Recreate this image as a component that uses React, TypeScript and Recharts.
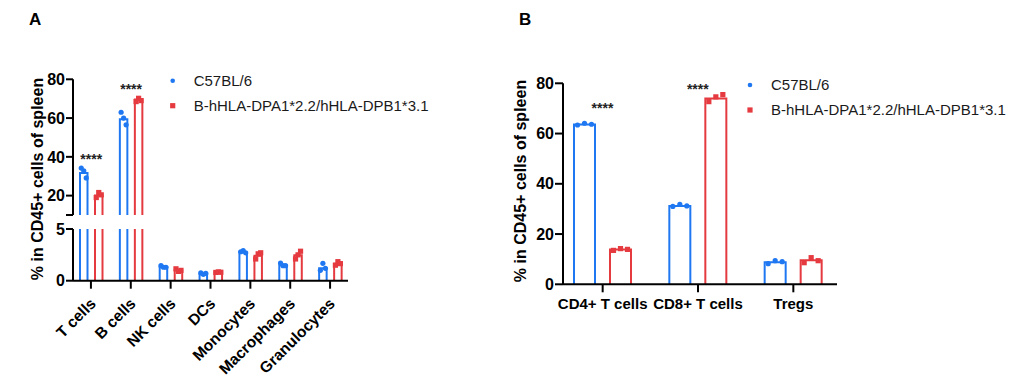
import React from "react";
import { BarChart, Bar, XAxis, YAxis } from "recharts";

const BLUE = "#1f78f2";
const RED = "#e53a3f";
const FONT = "'Liberation Sans', Arial, Helvetica, sans-serif";

// ---- panel A: immune cells of spleen (broken axis) ----
const cellsA = ["T cells", "B cells", "NK cells", "DCs", "Monocytes", "Macrophages", "Granulocytes"];
const meanA_C57 = [31.7, 59.4, 1.32, 0.68, 2.72, 1.5, 1.2];
const meanA_HLA = [20.0, 69.6, 1.0, 0.82, 2.42, 2.45, 1.65];
const dotsA_C57 = [
  [34.2, 32.8, 29.1],
  [63.0, 60.0, 56.5],
  [1.45, 1.3, 1.3],
  [0.75, 0.62, 0.7],
  [2.8, 2.9, 2.7],
  [1.7, 1.45, 1.45],
  [1.0, 1.68, 1.2],
];
const dotsA_HLA = [
  [19.0, 21.6, 20.4],
  [68.5, 70.2, 69.0],
  [1.15, 0.9, 1.0],
  [0.8, 0.85, 0.82],
  [2.1, 2.6, 2.7],
  [2.1, 2.5, 2.85],
  [1.5, 1.84, 1.65],
];
const starsA = ["****", "****", "", "", "", "", ""];
const starLevelA = [40.2, 76.4, 0, 0, 0, 0, 0];

// ---- panel B: T cell subsets ----
const cellsB = ["CD4+ T cells", "CD8+ T cells", "Tregs"];
const meanB_C57 = [63.6, 31.2, 8.8];
const meanB_HLA = [13.9, 74.0, 9.6];
const dotsB_C57 = [
  [63.4, 64.1, 63.7],
  [31.0, 31.8, 31.2],
  [8.2, 9.4, 9.0],
];
const dotsB_HLA = [
  [13.5, 14.2, 13.9],
  [72.7, 74.6, 75.5],
  [8.6, 10.6, 9.4],
];
const starsB = ["****", "****", ""];
const starLevelB = [71.4, 78.9, 0];

const legendNames = ["C57BL/6", "B-hHLA-DPA1*2.2/hHLA-DPB1*3.1"];

const rowsA = cellsA.map((cat, i) => ({ cat, c57: meanA_C57[i], hla: meanA_HLA[i] }));
const rowsB = cellsB.map((cat, i) => ({ cat, c57: meanB_C57[i], hla: meanB_HLA[i] }));

type ShapeOpts = {
  key: "c57" | "hla";
  dots: number[][];
  color: string;
  square: boolean;
  base: number;
  hi: number;
  spread: number;
  gap: number;
  stars?: string[];
  starAt?: number[];
};

// hollow bar (no bottom edge) + replicate points + significance stars
function makeShape(o: ShapeOpts) {
  return (props: any) => {
    const { x, y, width, height, index, payload } = props;
    const v = payload[o.key];
    if (!(v > o.base) || !height) return <g />;
    const k = height / (v - o.base);
    const y0 = y + height;
    const toY = (d: number) => y0 - (d - o.base) * k;
    const top = toY(o.hi);
    const clipped = y < top - 0.5;
    const yt = Math.max(y, top);
    const path = clipped
      ? `M${x},${y0} L${x},${yt} M${x + width},${yt} L${x + width},${y0}`
      : `M${x},${y0} L${x},${y} L${x + width},${y} L${x + width},${y0}`;
    const cx = x + width / 2;
    const offs = [-o.spread, 0, o.spread];
    const star = o.stars ? o.stars[index] : "";
    return (
      <g>
        <path d={path} fill="none" stroke={o.color} strokeWidth={2} />
        {o.dots[index].map((d, j) => {
          if (d < o.base || d > o.hi) return null;
          const py = toY(d);
          const px = cx + offs[j];
          return o.square ? (
            <rect key={j} x={px - 2.6} y={py - 2.6} width={5.2} height={5.2} fill={o.color} />
          ) : (
            <circle key={j} cx={px} cy={py} r={2.6} fill={o.color} />
          );
        })}
        {star && o.starAt ? (
          <text
            x={x - o.gap / 2}
            y={toY(o.starAt[index]) + 8}
            textAnchor="middle"
            fontSize={14}
            fontWeight="bold"
            fontFamily={FONT}
            fill="#222"
          >
            {star}
          </text>
        ) : null}
      </g>
    );
  };
}

const axisStyle = { stroke: "#000", strokeWidth: 2 };
const yTick = { fontSize: 16, fontWeight: "bold", fill: "#000", fontFamily: FONT };

const AngledTick = (props: any) => {
  const { x, y, payload } = props;
  return (
    <g transform={`translate(${x + 2},${y + 10})`}>
      <text
        x={0}
        y={0}
        dy="0.35em"
        textAnchor="end"
        transform="rotate(-45)"
        fontSize={15.5}
        fontWeight="bold"
        fontFamily={FONT}
        fill="#000"
      >
        {payload.value}
      </text>
    </g>
  );
};

const abs = { position: "absolute" as const, left: 0, top: 0 };

function Legend({ x, y }: { x: number; y: number }) {
  return (
    <g fontFamily={FONT} fontSize={15} fill="#1a1a1a">
      <circle cx={x} cy={y} r={2.3} fill={BLUE} />
      <text x={x + 21} y={y + 4.8}>{legendNames[0]}</text>
      <rect x={x - 2.6} y={y + 22.4} width={5.2} height={5.2} fill={RED} />
      <text x={x + 21} y={y + 30}>{legendNames[1]}</text>
    </g>
  );
}

export default function App() {
  const gapA = 7.5;
  const gapB = 15;
  return (
    <div style={{ position: "absolute", left: 0, top: 0, width: 1010, height: 390, background: "#fff", fontFamily: FONT }}>
      {/* panel A, upper segment 10-80 */}
      <div style={abs}>
        <BarChart width={360} height={220} data={rowsA} margin={{ top: 79.3, right: 12, left: 0, bottom: 5 }} barSize={7.5} barGap={gapA}>
          <XAxis dataKey="cat" hide padding={{ left: -2, right: -2 }} />
          <YAxis
            width={73}
            domain={[10, 80]}
            ticks={[10, 20, 40, 60, 80]}
            allowDataOverflow
            axisLine={axisStyle}
            tickLine={axisStyle}
            tickSize={7}
            tickMargin={1}
            tick={yTick}
            tickFormatter={(v: number) => (v === 10 ? "" : String(v))}
          />
          <Bar dataKey="c57" isAnimationActive={false} shape={makeShape({ key: "c57", dots: dotsA_C57, color: BLUE, square: false, base: 10, hi: 80, spread: 2.5, gap: gapA })} />
          <Bar dataKey="hla" isAnimationActive={false} shape={makeShape({ key: "hla", dots: dotsA_HLA, color: RED, square: true, base: 10, hi: 80, spread: 2.5, gap: gapA, stars: starsA, starAt: starLevelA })} />
        </BarChart>
      </div>
      {/* panel A, lower segment 0-5 */}
      <div style={abs}>
        <BarChart width={360} height={390} data={rowsA} margin={{ top: 229, right: 12, left: 0, bottom: 9.3 }} barSize={7.5} barGap={gapA}>
          <XAxis
            dataKey="cat"
            height={100}
            interval={0}
            padding={{ left: -2, right: -2 }}
            axisLine={axisStyle}
            tickLine={axisStyle}
            tickSize={8}
            tick={<AngledTick />}
          />
          <YAxis
            width={73}
            domain={[0, 5]}
            ticks={[0, 5]}
            allowDataOverflow
            axisLine={axisStyle}
            tickLine={axisStyle}
            tickSize={7}
            tickMargin={1}
            tick={yTick}
          />
          <Bar dataKey="c57" isAnimationActive={false} shape={makeShape({ key: "c57", dots: dotsA_C57, color: BLUE, square: false, base: 0, hi: 5, spread: 2.5, gap: gapA })} />
          <Bar dataKey="hla" isAnimationActive={false} shape={makeShape({ key: "hla", dots: dotsA_HLA, color: RED, square: true, base: 0, hi: 5, spread: 2.5, gap: gapA })} />
        </BarChart>
      </div>
      {/* panel B */}
      <div style={{ position: "absolute", left: 480, top: 0 }}>
        <BarChart width={380} height={390} data={rowsB} margin={{ top: 83.3, right: 23, left: 0, bottom: 45.7 }} barSize={21} barGap={gapB}>
          <XAxis
            dataKey="cat"
            height={60}
            interval={0}
            padding={{ left: -8, right: -4 }}
            axisLine={axisStyle}
            tickLine={axisStyle}
            tickSize={8}
            tickMargin={6}
            tick={{ fontSize: 15, fontWeight: "bold", fill: "#000", fontFamily: FONT }}
          />
          <YAxis
            width={83}
            domain={[0, 80]}
            ticks={[0, 20, 40, 60, 80]}
            axisLine={axisStyle}
            tickLine={axisStyle}
            tickSize={8}
            tickMargin={1}
            tick={yTick}
          />
          <Bar dataKey="c57" isAnimationActive={false} shape={makeShape({ key: "c57", dots: dotsB_C57, color: BLUE, square: false, base: 0, hi: 80, spread: 7, gap: gapB })} />
          <Bar dataKey="hla" isAnimationActive={false} shape={makeShape({ key: "hla", dots: dotsB_HLA, color: RED, square: true, base: 0, hi: 80, spread: 7, gap: gapB, stars: starsB, starAt: starLevelB })} />
        </BarChart>
      </div>
      {/* letters, axis titles, legends */}
      <svg width={1010} height={390} style={{ ...abs, pointerEvents: "none" }}>
        <text x={29} y={25} fontSize={17} fontWeight="bold" fontFamily={FONT}>A</text>
        <text x={519} y={25} fontSize={17} fontWeight="bold" fontFamily={FONT}>B</text>
        <text transform="translate(43,179) rotate(-90)" textAnchor="middle" fontSize={16} fontWeight="bold" fontFamily={FONT}>
          % in CD45+ cells of spleen
        </text>
        <text transform="translate(526,181) rotate(-90)" textAnchor="middle" fontSize={16} fontWeight="bold" fontFamily={FONT}>
          % in CD45+ cells of spleen
        </text>
        <Legend x={172.7} y={80.7} />
        <Legend x={750} y={85} />
      </svg>
    </div>
  );
}
